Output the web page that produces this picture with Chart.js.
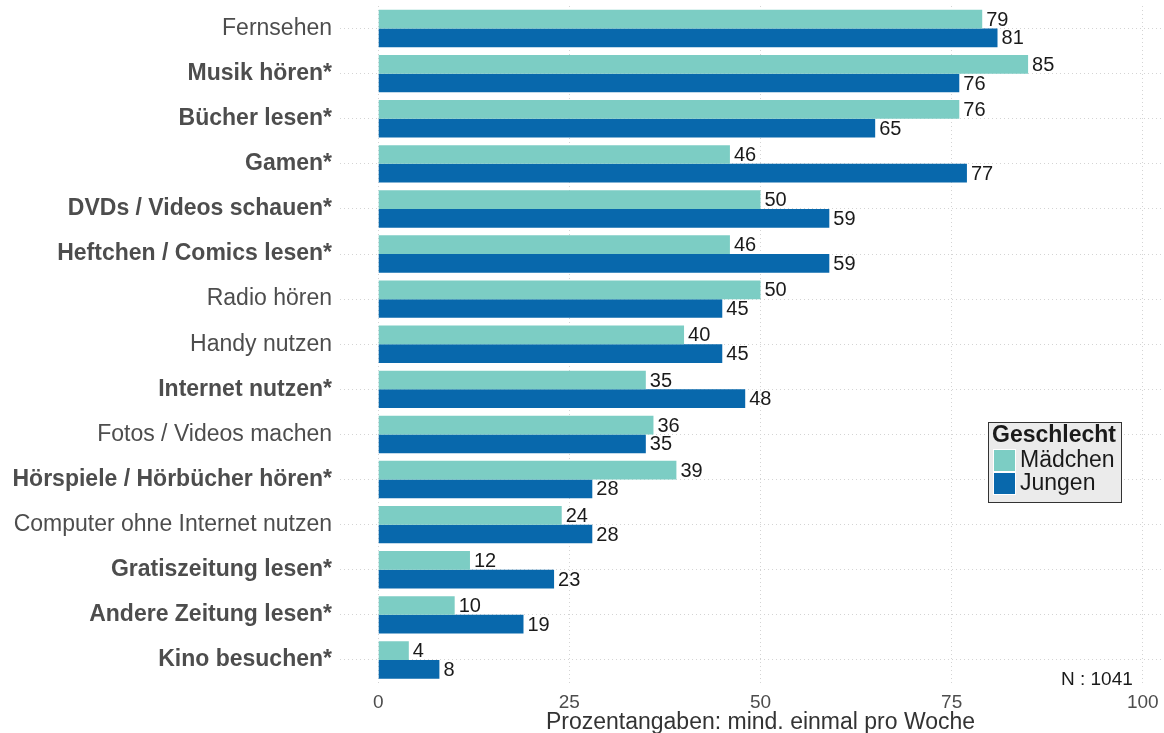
<!DOCTYPE html>
<html>
  <head>
    <meta charset="UTF-8">
    <title>Medienaktivitäten nach Geschlecht</title>
    <script src="https://cdn.jsdelivr.net/npm/chart.js"></script>
    <style>
      html, body { margin: 0; padding: 0; background: #fff; overflow: hidden; }
      #wrap { width: 1164px; height: 733px; overflow: hidden; }
    </style>
  </head>
  <body>
    <div id="wrap">
      <canvas id="chart" width="1181" height="733"></canvas>
    </div>
    <script>
      // Data
      const categories = [
        'Fernsehen', 'Musik hören*', 'Bücher lesen*', 'Gamen*', 'DVDs / Videos schauen*',
        'Heftchen / Comics lesen*', 'Radio hören', 'Handy nutzen', 'Internet nutzen*',
        'Fotos / Videos machen', 'Hörspiele / Hörbücher hören*', 'Computer ohne Internet nutzen',
        'Gratiszeitung lesen*', 'Andere Zeitung lesen*', 'Kino besuchen*'
      ];
      const maedchen = [79, 85, 76, 46, 50, 46, 50, 40, 35, 36, 39, 24, 12, 10, 4];
      const jungen   = [81, 76, 65, 77, 59, 59, 45, 45, 48, 35, 28, 28, 23, 19, 8];
      const seriesNames = ['Mädchen', 'Jungen'];
      const xTicks = [0, 25, 50, 75, 100];
      const legendTitle = 'Geschlecht';
      const axisTitle = 'Prozentangaben: mind. einmal pro Woche';
      const nLabel = 'N : 1041';

      const FONT = "'Liberation Sans', Arial, Helvetica, sans-serif";
      const colors = ['#7ccdc4', '#0868ac'];

      // value labels right of each bar
      const barLabels = {
        id: 'barLabels',
        afterDatasetsDraw(chart) {
          const ctx = chart.ctx;
          ctx.save();
          ctx.font = `20px ${FONT}`;
          ctx.fillStyle = '#1a1a1a';
          ctx.textBaseline = 'middle';
          ctx.textAlign = 'left';
          chart.data.datasets.forEach((ds, di) => {
            chart.getDatasetMeta(di).data.forEach((bar, i) => {
              ctx.fillText(String(ds.data[i]), bar.x + 4, bar.y + 1);
            });
          });
          ctx.restore();
        }
      };

      // boxed legend inside the panel + N annotation
      const boxLegend = {
        id: 'boxLegend',
        afterDraw(chart) {
          const ctx = chart.ctx;
          const x0 = 988, y0 = 422;
          ctx.save();
          ctx.fillStyle = '#ebebeb';
          ctx.strokeStyle = '#333';
          ctx.lineWidth = 1;
          ctx.fillRect(x0, y0, 133, 80);
          ctx.strokeRect(x0 + 0.5, y0 + 0.5, 133, 80);

          ctx.fillStyle = '#1a1a1a';
          ctx.textBaseline = 'middle';
          ctx.textAlign = 'left';
          ctx.font = `bold 23px ${FONT}`;
          ctx.fillText(legendTitle, x0 + 4, y0 + 14);

          ctx.font = `23px ${FONT}`;
          seriesNames.forEach((name, i) => {
            const sy = y0 + 27 + i * 23;
            ctx.fillStyle = colors[i];
            ctx.fillRect(x0 + 5, sy, 23, 23);
            ctx.strokeStyle = '#fff';
            ctx.strokeRect(x0 + 5.5, sy + 0.5, 22, 22);
            ctx.fillStyle = '#1a1a1a';
            ctx.fillText(name, x0 + 32, sy + 12);
          });

          // N annotation
          const xs = chart.scales.x, ys = chart.scales.y;
          ctx.font = `19px ${FONT}`;
          ctx.textAlign = 'right';
          ctx.fillStyle = '#1a1a1a';
          ctx.fillText(nLabel, xs.getPixelForValue(100) - 10, ys.getPixelForValue(categories.length - 1) + 20);
          ctx.restore();
        }
      };

      new Chart(document.getElementById('chart'), {
        type: 'bar',
        data: {
          labels: categories,
          datasets: [
            { label: seriesNames[0], data: maedchen, backgroundColor: colors[0] },
            { label: seriesNames[1], data: jungen, backgroundColor: colors[1] }
          ]
        },
        options: {
          indexAxis: 'y',
          responsive: false,
          animation: false,
          layout: { padding: { top: 6, right: 0, bottom: 0, left: 0 } },
          datasets: {
            bar: { categoryPercentage: 0.83, barPercentage: 1, borderWidth: 0 }
          },
          plugins: {
            legend: { display: false },
            tooltip: { enabled: false }
          },
          scales: {
            x: {
              min: -5,
              max: 105,
              afterBuildTicks: s => { s.ticks = xTicks.map(v => ({ value: v })); },
              afterFit: s => { s.height = 50.5; },
              grid: { color: '#d4d4d4', lineWidth: 1, drawTicks: false },
              border: { display: false, dash: [1, 3] },
              ticks: {
                padding: 9,
                color: '#4d4d4d',
                font: { family: FONT, size: 19 }
              },
              title: {
                display: true,
                text: axisTitle,
                color: '#333',
                font: { family: FONT, size: 23 },
                padding: { top: 0, bottom: -3 }
              }
            },
            y: {
              offset: true,
              afterFit: s => { s.width = 340; s.paddingTop = 0; s.paddingBottom = 0; },
              grid: { offset: false, color: '#d4d4d4', lineWidth: 1, drawTicks: false },
              border: { display: false, dash: [1, 3] },
              ticks: {
                padding: 8,
                color: '#4d4d4d',
                font: c => ({
                  family: FONT,
                  size: 23,
                  weight: categories[c.index] && categories[c.index].includes('*') ? 'bold' : 'normal'
                })
              }
            }
          }
        },
        plugins: [barLabels, boxLegend]
      });
    </script>
  </body>
</html>
